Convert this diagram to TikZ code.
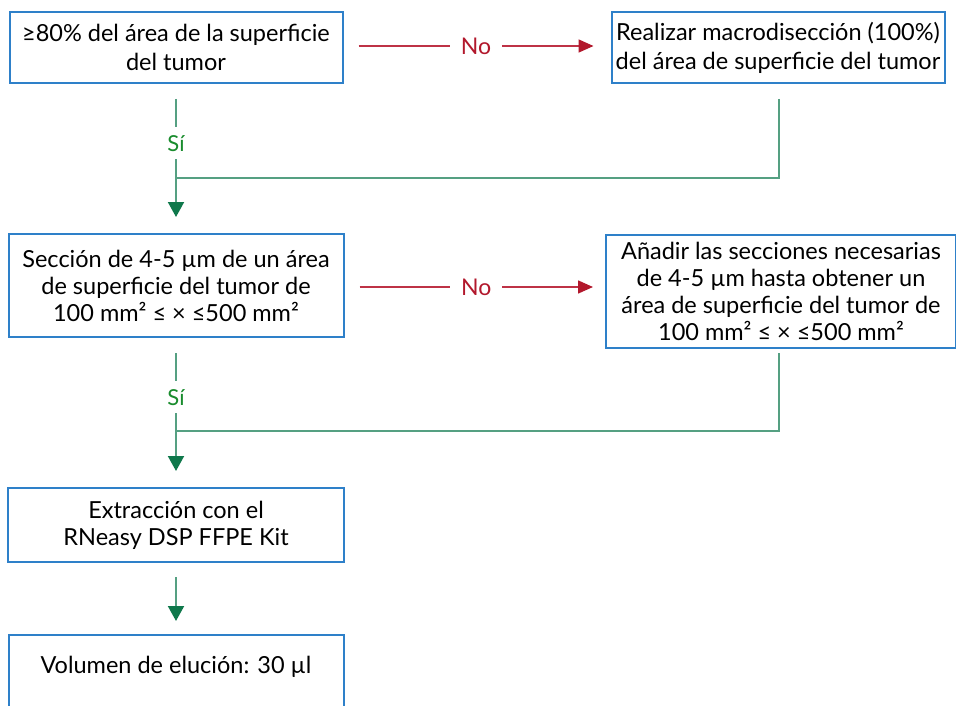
\documentclass[tikz,border=0pt]{standalone}
\usepackage{fontspec}
\setmainfont{Lato}
\usetikzlibrary{arrows.meta,calc}
\definecolor{qblue}{RGB}{46,128,201}
\definecolor{qred}{RGB}{178,24,44}
\definecolor{qredline}{RGB}{190,50,70}
\definecolor{qgreentext}{RGB}{25,140,45}
\definecolor{qgline}{RGB}{85,160,130}
\definecolor{qgarrow}{RGB}{15,120,75}
\tikzset{
  boxbase/.style={draw=qblue, line width=2pt, fill=white, inner sep=0pt, font=\fontsize{23.5}{27}\selectfont},
  box/.style={boxbase, align=center},
  gline/.style={draw=qgline, line width=2pt},
  garrow/.style={gline, -{Triangle[length=15pt,width=16pt,color=qgarrow]}},
  rarrow/.style={draw=qredline, line width=1.6pt, -{Triangle[length=15pt,width=13pt,color=qred]}},
  silabel/.style={fill=white, text=qgreentext, inner xsep=4pt, inner ysep=8pt, font=\fontsize{22}{26}\selectfont},
  nolabel/.style={fill=white, text=qred, inner xsep=11pt, inner ysep=3pt, font=\fontsize{23}{26}\selectfont}
}
\begin{document}
\begin{tikzpicture}[x=1pt,y=-1pt]
\useasboundingbox (0,0) rectangle (956,706);
\clip (0,0) rectangle (956,706);
\fill[white] (0,0) rectangle (956,706);

\node[box, minimum width=333pt, minimum height=71pt, font=\fontsize{23.5}{29}\selectfont] (b1) at (176,47.5)
  {≥80\% del área de la superficie\\del tumor};
\node[box, minimum width=333pt, minimum height=71pt, font=\fontsize{23.5}{29}\selectfont] (b2) at (778,47.5)
  {Realizar macrodisección (100\%)\\del área de superficie del tumor};
\node[box, minimum width=335pt, minimum height=103pt] (b3) at (176,285.5)
  {Sección de 4-5 µm de un área\\de superficie del tumor de\\100 mm² ≤ × ≤500 mm²};
\node[box, minimum width=350pt, minimum height=113pt] (b4) at (781,291.5)
  {Añadir las secciones necesarias\\de 4-5 µm hasta obtener un\\área de superficie del tumor de\\100 mm² ≤ × ≤500 mm²};
\node[box, minimum width=336pt, minimum height=74pt] (b5) at (176,525)
  {Extracción con el\\RNeasy DSP FFPE Kit};
\node[boxbase, minimum width=335pt, text height=38pt, text depth=55pt, anchor=base] (b6) at (176,673)
  {Volumen de elución: 30 µl};

% row 1
\draw[rarrow] ($(b1.east)+(15,-1.5)$) -- node[nolabel]{No} ($(b2.west)+(-17,-1.5)$);
\coordinate (j1) at (176,178);
\draw[garrow] ($(b1.south)+(0,15)$) -- node[pos=0.375, silabel]{Sí} ($(b3.north)+(0,-16)$);
\draw[gline] ($(b2.south)+(1,15)$) |- (j1);

% row 2
\draw[rarrow] ($(b3.east)+(15,1.5)$) -- node[nolabel]{No} ($(b3.east -| b4.west)+(-12,1.5)$);
\coordinate (j2) at (176,431);
\draw[garrow] ($(b3.south)+(0,15)$) -- node[pos=0.375, silabel]{Sí} ($(b5.north)+(0,-16)$);
\draw[gline] ($(b4.south)+(-2,4)$) |- (j2);

% row 3
\draw[garrow] ($(b5.south)+(0,14)$) -- ($(b6.north)+(0,-13)$);
\end{tikzpicture}
\end{document}
